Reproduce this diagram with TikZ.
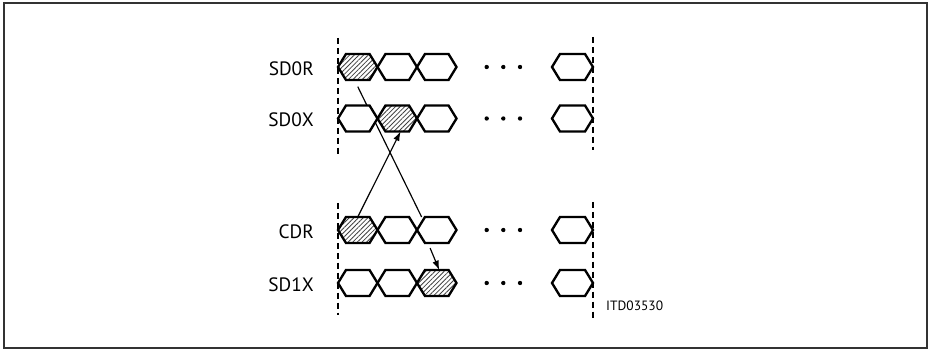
\documentclass[tikz,border=0pt]{standalone}
\usepackage{fontspec}
\setmainfont{PT Sans}
\usetikzlibrary{shapes.symbols}
\usetikzlibrary{patterns.meta}
\usetikzlibrary{arrows.meta}
\usetikzlibrary{backgrounds}

\tikzset{
	cell/.style={signal, signal to=east and west, signal pointer angle=117,
		draw, line width=2pt, fill=white, inner sep=0pt, outer sep=0pt,
		minimum width=1.185cm, minimum height=0.78cm},
	hatched/.style={cell, pattern={Lines[angle=45,distance=2.8pt,line width=0.7pt]},
		pattern color=black!75},
	sig/.style={font=\fontsize{16.5}{18}\selectfont, anchor=east, inner sep=0pt},
	mark line/.style={dash pattern=on 5.5pt off 3pt, line width=1.4pt},
	link/.style={line width=1pt}
}

\begin{document}
\begin{tikzpicture}[x=0.03cm, y=-0.03cm, >={Latex[length=8pt,width=5.5pt]}]

	\useasboundingbox (0,0) rectangle (930,349);
	\draw [line width=1.1pt, black!80] (4,3) rectangle (927,348);

	% Dashed time marks
	\draw [mark line] (338,38) -- (338,156);
	\draw [mark line] (338,203) -- (338,315);
	\draw [mark line] (593,37) -- (593,150);
	\draw [mark line] (593,202) -- (593,318);

	% Signal rows (name / label / y / hatched cell)
	\foreach \n/\lab/\y/\h in {sd0r/SD0R/67/1, sd0x/SD0X/118.5/2, cdr/CDR/230/1, sd1x/SD1X/283/3} {
		\node [sig] (\n lab) at (314,\y+1.5) {\lab};
		\foreach \i in {1,2,3} {
			\ifnum\i=\h \def\st{hatched}\else\def\st{cell}\fi
			\node [\st] (\n\i) at (318.25+39.5*\i,\y) {};
		}
		\node [cell, minimum width=1.23cm] (\n n) at (572.5,\y) {};
		\foreach \d in {486.7,503.3,520}
			\fill (\d,\y) circle [radius=0.065cm];
	}

	% Transfers
	\begin{scope}[on background layer]
		\draw [link] ([yshift=-0.2cm]sd0r1.south) -- ([xshift=-0.1cm]cdr3.north west);
	\end{scope}
	\draw [link, ->] (cdr1.north) -- ([xshift=0.1cm]sd0x2.south);
	\draw [link, ->] ([xshift=-0.2cm, yshift=-0.15cm]cdr3.south) -- ([xshift=0.075cm]sd1x3.north);

	\node [anchor=west, font=\fontsize{11.5}{13}\selectfont, inner sep=0pt] (code) at (606,306) {ITD03530};

\end{tikzpicture}
\end{document}
